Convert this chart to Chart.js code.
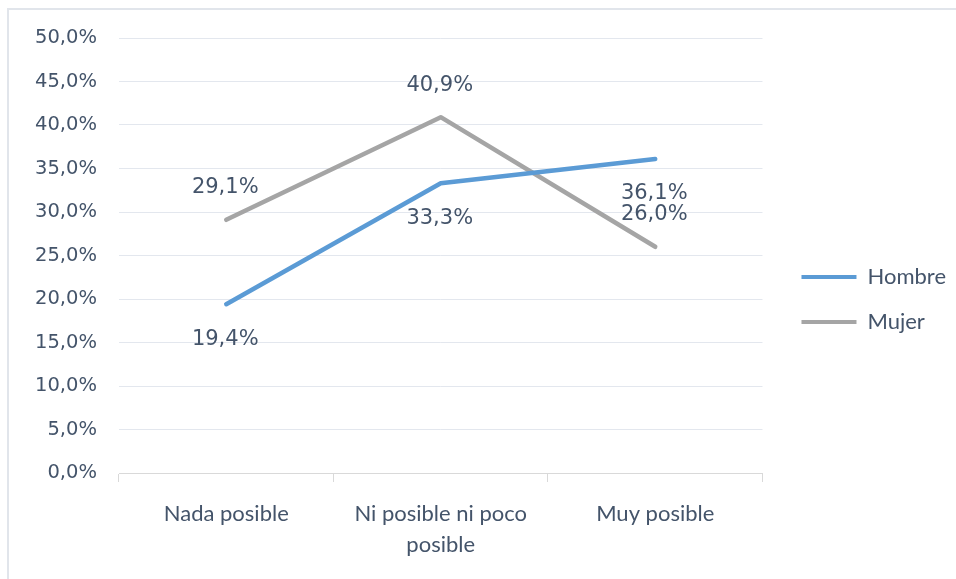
<!DOCTYPE html>
<html lang="es">
<head>
<meta charset="UTF-8">
<title>Hombre / Mujer</title>
<script src="https://cdn.jsdelivr.net/npm/chart.js"></script>
<style>
  body { margin: 0; background: #fff; overflow: hidden; }
  .frame { position: absolute; left: 7px; top: 8px; width: 1000px; height: 600px; border: 2px solid #e1e5eb; }
  #wrap { position: absolute; left: 0; top: 0; width: 956px; height: 579px; }
</style>
</head>
<body>
<div class="frame"></div>
<div id="wrap"><canvas id="chart"></canvas></div>
<script>
  const categories = ['Nada posible', ['Ni posible ni poco', 'posible'], 'Muy posible'];
  const hombre = [19.4, 33.3, 36.1];
  const mujer = [29.1, 40.9, 26.0];
  const textColor = '#44546a';

  const fmt = v => v.toFixed(1).replace('.', ',') + '%';

  // value labels: Hombre under its points, Mujer above
  const valueLabels = {
    id: 'valueLabels',
    afterDatasetsDraw(chart) {
      const ctx = chart.ctx;
      ctx.save();
      ctx.font = '21px "DejaVu Sans"';
      ctx.fillStyle = textColor;
      ctx.textAlign = 'center';
      ctx.textBaseline = 'middle';
      chart.data.datasets.forEach((ds, i) => {
        const dy = i === 0 ? 35 : -32;
        chart.getDatasetMeta(i).data.forEach((pt, j) => {
          ctx.fillText(fmt(ds.data[j]), pt.x - 1, pt.y + dy);
        });
      });
      ctx.restore();
    }
  };

  new Chart(document.getElementById('chart'), {
    type: 'line',
    data: {
      labels: categories,
      datasets: [
        { label: 'Hombre', data: hombre, borderColor: '#5b9bd5', backgroundColor: '#5b9bd5',
          borderWidth: 4.5, pointRadius: 0, borderCapStyle: 'round', borderJoinStyle: 'round' },
        { label: 'Mujer', data: mujer, borderColor: '#a5a5a5', backgroundColor: '#a5a5a5',
          borderWidth: 4.5, pointRadius: 0, borderCapStyle: 'round', borderJoinStyle: 'round' }
      ]
    },
    options: {
      responsive: true,
      maintainAspectRatio: false,
      animation: false,
      layout: { padding: { top: 38, right: 0, left: 0, bottom: 18 } },
      plugins: {
        tooltip: { enabled: false },
        legend: {
          position: 'right',
          maxWidth: 180,
          labels: {
            color: textColor,
            font: { family: 'Lato', size: 22 },
            boxWidth: 55,
            boxHeight: 4,
            padding: 23,
            generateLabels: chart => chart.data.datasets.map((ds, i) => ({
              text: ds.label, fillStyle: ds.borderColor, strokeStyle: ds.borderColor,
              lineWidth: 0, fontColor: textColor, datasetIndex: i
            }))
          }
        }
      },
      scales: {
        x: {
          offset: true,
          grid: { offset: true, drawOnChartArea: false, drawTicks: true, tickLength: 9, color: '#d9d9d9' },
          border: { color: '#d9d9d9', width: 1 },
          ticks: { color: textColor, font: { family: 'Lato', size: 22, lineHeight: 1.42 }, padding: 16, maxRotation: 0 },
          afterFit: s => { s.height = 88; }
        },
        y: {
          min: 0, max: 50,
          ticks: { stepSize: 5, color: textColor, font: { family: 'DejaVu Sans', size: 19.5 }, padding: 22,
                   callback: v => fmt(v) },
          grid: { color: '#e3e7ee', drawTicks: false },
          border: { display: false },
          afterFit: s => { s.width = 119; }
        },
        // empty strip between the plot and the legend
        gap: {
          type: 'linear', position: 'right',
          grid: { display: false }, ticks: { display: false }, border: { display: false },
          afterFit: s => { s.width = 16; }
        }
      }
    },
    plugins: [valueLabels]
  });
</script>
</body>
</html>
